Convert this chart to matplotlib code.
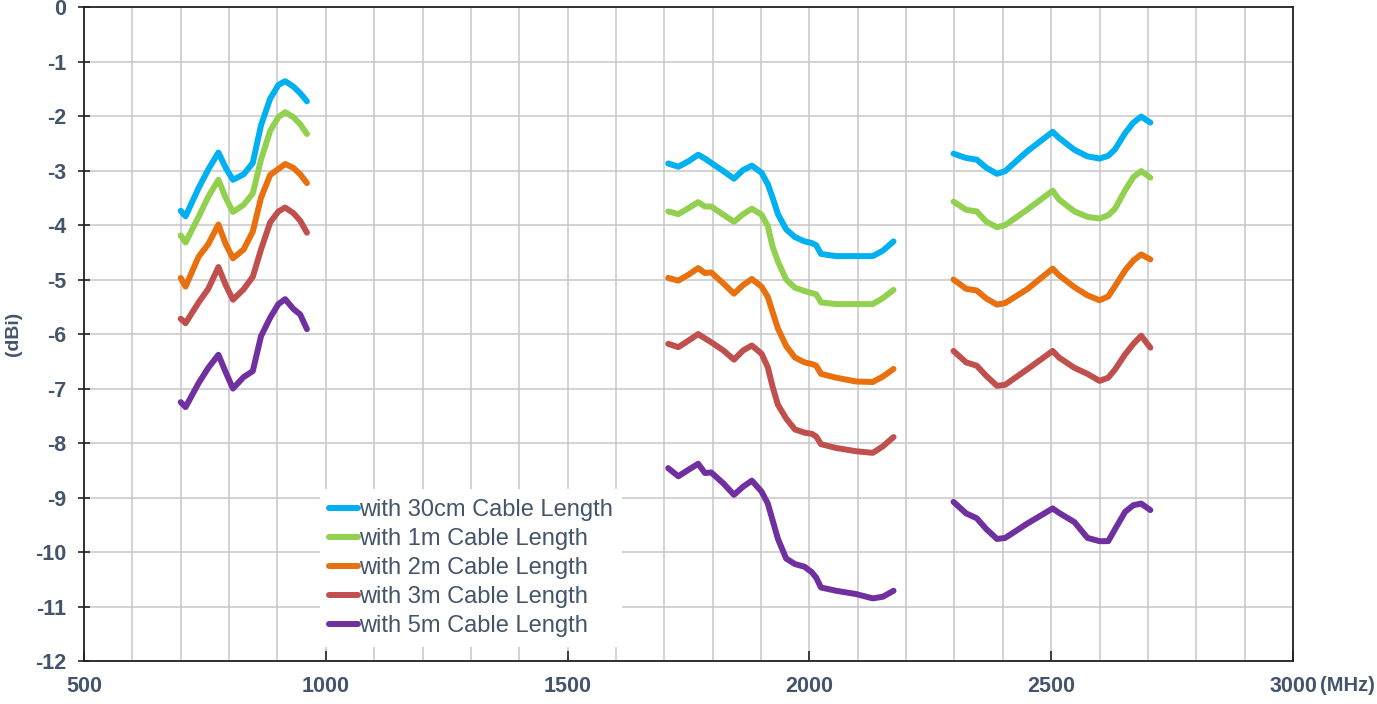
import matplotlib.pyplot as plt
from matplotlib.ticker import MultipleLocator

# frequencies (MHz) for the three measured bands
f_low = [700, 710, 737, 757, 778, 793, 808, 830, 849, 866, 885, 902, 916, 933, 947, 961]
f_mid = [1708, 1729, 1750, 1770, 1784, 1797, 1822, 1844, 1863, 1881, 1901, 1914, 1924,
         1935, 1952, 1970, 1990, 2005, 2014, 2024, 2055, 2096, 2131, 2152, 2174]
f_high = [2298, 2324, 2346, 2366, 2388, 2405, 2450, 2503, 2516, 2548, 2575, 2600, 2618,
          2632, 2653, 2670, 2686, 2705]

# gain (dBi) per cable length, per band
cm30_low = [-3.74, -3.84, -3.32, -2.98, -2.67, -2.95, -3.17, -3.07, -2.86, -2.17, -1.68, -1.43, -1.36, -1.46, -1.58, -1.73]
cm30_mid = [-2.87, -2.93, -2.83, -2.71, -2.78, -2.86, -3.01, -3.15, -2.99, -2.91, -3.04, -3.25, -3.50,
            -3.80, -4.08, -4.22, -4.30, -4.33, -4.37, -4.53, -4.57, -4.57, -4.57, -4.47, -4.30]
cm30_high = [-2.69, -2.77, -2.80, -2.95, -3.06, -3.01, -2.65, -2.29, -2.40, -2.62, -2.74, -2.78, -2.73,
             -2.61, -2.31, -2.12, -2.01, -2.12]

m1_low = [-4.19, -4.32, -3.85, -3.48, -3.17, -3.50, -3.76, -3.63, -3.42, -2.80, -2.27, -2.02, -1.93, -2.02, -2.15, -2.33]
m1_mid = [-3.75, -3.80, -3.69, -3.58, -3.66, -3.66, -3.81, -3.94, -3.80, -3.70, -3.81, -4.02, -4.40,
          -4.67, -5.00, -5.15, -5.21, -5.25, -5.27, -5.42, -5.45, -5.45, -5.45, -5.34, -5.19]
m1_high = [-3.57, -3.72, -3.75, -3.94, -4.04, -4.00, -3.72, -3.37, -3.53, -3.75, -3.85, -3.88, -3.82,
           -3.70, -3.36, -3.12, -3.01, -3.13]

m2_low = [-4.97, -5.13, -4.58, -4.35, -3.99, -4.35, -4.61, -4.45, -4.12, -3.50, -3.08, -2.97, -2.88, -2.95, -3.07, -3.23]
m2_mid = [-4.97, -5.02, -4.91, -4.79, -4.88, -4.87, -5.07, -5.26, -5.10, -4.99, -5.13, -5.32, -5.60,
          -5.90, -6.22, -6.43, -6.52, -6.55, -6.58, -6.73, -6.80, -6.87, -6.88, -6.78, -6.64]
m2_high = [-5.00, -5.17, -5.20, -5.35, -5.46, -5.43, -5.18, -4.80, -4.92, -5.14, -5.29, -5.38, -5.31,
           -5.12, -4.83, -4.65, -4.54, -4.63]

m3_low = [-5.72, -5.80, -5.42, -5.17, -4.77, -5.10, -5.37, -5.18, -4.95, -4.45, -3.95, -3.75, -3.68, -3.78, -3.92, -4.14]
m3_mid = [-6.18, -6.24, -6.12, -6.00, -6.08, -6.15, -6.30, -6.47, -6.30, -6.21, -6.36, -6.61, -6.97,
          -7.30, -7.55, -7.75, -7.81, -7.83, -7.88, -8.02, -8.09, -8.15, -8.18, -8.06, -7.89]
m3_high = [-6.31, -6.52, -6.58, -6.77, -6.95, -6.93, -6.65, -6.31, -6.43, -6.62, -6.73, -6.86, -6.80,
           -6.65, -6.37, -6.18, -6.03, -6.25]

m5_low = [-7.25, -7.34, -6.90, -6.62, -6.38, -6.70, -7.00, -6.79, -6.68, -6.04, -5.70, -5.45, -5.36, -5.54, -5.64, -5.91]
m5_mid = [-8.46, -8.61, -8.49, -8.38, -8.55, -8.54, -8.74, -8.95, -8.80, -8.69, -8.89, -9.11, -9.42,
          -9.76, -10.12, -10.22, -10.27, -10.37, -10.47, -10.65, -10.71, -10.77, -10.85, -10.82, -10.71]
m5_high = [-9.08, -9.29, -9.38, -9.58, -9.76, -9.74, -9.48, -9.20, -9.28, -9.45, -9.74, -9.80, -9.80,
           -9.58, -9.26, -9.14, -9.11, -9.23]

labels = ["with 30cm Cable Length", "with 1m Cable Length", "with 2m Cable Length",
          "with 3m Cable Length", "with 5m Cable Length"]
colors = ["#00B0F0", "#92D050", "#E8700F", "#C0504D", "#7030A0"]
series = [(cm30_low, cm30_mid, cm30_high),
          (m1_low, m1_mid, m1_high),
          (m2_low, m2_mid, m2_high),
          (m3_low, m3_mid, m3_high),
          (m5_low, m5_mid, m5_high)]

txt = "#44546A"
plt.rcParams['font.family'] = ['Liberation Sans', 'DejaVu Sans']
plt.rcParams['axes.unicode_minus'] = False

fig = plt.figure(figsize=(13.77, 7.04), dpi=100)
ax = fig.add_axes([0.061, 0.061, 0.878, 0.929])

for (lo, mi, hi), c, lab in zip(series, colors, labels):
    kw = dict(color=c, lw=4.3, solid_capstyle='round', solid_joinstyle='round')
    ax.plot(f_low, lo, label=lab, **kw)
    ax.plot(f_mid, mi, **kw)
    ax.plot(f_high, hi, **kw)

ax.set_xlim(500, 3000)
ax.set_ylim(-12, 0)
ax.xaxis.set_major_locator(MultipleLocator(500))
ax.xaxis.set_minor_locator(MultipleLocator(100))
ax.yaxis.set_major_locator(MultipleLocator(1))
ax.grid(which='both', color='#C8C8C8', lw=1.1)
ax.set_axisbelow(True)

ax.tick_params(axis='x', which='major', direction='in', length=7, width=1.2,
               color='#222222', pad=11, labelsize=15.5, labelcolor=txt)
ax.tick_params(axis='x', which='minor', length=0)
ax.tick_params(axis='y', direction='inout', length=8, width=1.2,
               color='#222222', pad=9, labelsize=15.5, labelcolor=txt)
for lab in ax.get_xticklabels() + ax.get_yticklabels():
    lab.set_fontweight('bold')

ax.annotate("(MHz)", xy=(3000, 0), xycoords=ax.get_xaxis_transform(),
            xytext=(19.5, -11), textcoords='offset points', ha='left', va='top',
            fontsize=14.5, fontweight='bold', color=txt)

ax.set_ylabel("(dBi)", fontsize=14, fontweight='bold', color=txt, labelpad=9)

for s in ax.spines.values():
    s.set_color('#222222')
    s.set_linewidth(1.3)

leg = ax.legend(loc='lower left', bbox_to_anchor=(0.195, 0.022), borderaxespad=0,
                fontsize=17, frameon=True, fancybox=False, framealpha=1,
                handlelength=1.2, handletextpad=0.05, labelspacing=0.3,
                borderpad=0.4)
leg.get_frame().set_edgecolor('none')
leg.get_frame().set_facecolor('white')
for t in leg.get_texts():
    t.set_color(txt)

fig.savefig("out.png", dpi=100)
